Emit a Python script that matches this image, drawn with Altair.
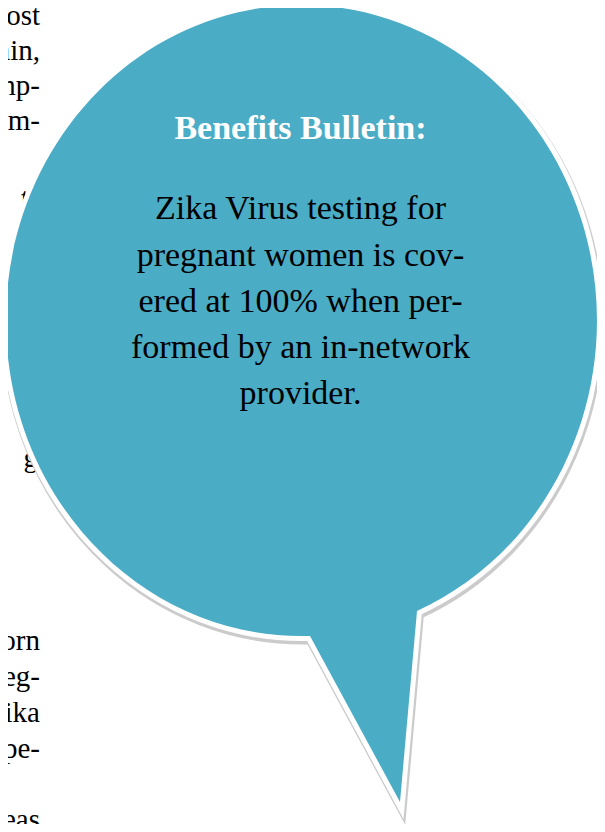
import altair as alt
import pandas as pd

# ---- content -------------------------------------------------------------
title_lines = ["Benefits Bulletin:"]
body_lines = [
    "Zika Virus testing for",
    "pregnant women is cov-",
    "ered at 100% when per-",
    "formed by an in-network",
    "provider.",
]
# fragments of the neighbouring newspaper column (cut by the page edge)
left_fragments = ["most", "main,", "mp-", "om-", "t", "g", "orn", "eg-", "ika", "pe-", "eas"]
left_right_edge = [40, 40, 40, 40, 29, 38, 40, 40, 40, 40, 40]
left_baseline = [25, 60, 95, 130, 208, 467, 650, 686, 722, 758, 829]

# speech bubble: ellipse centre and outline (relative, px)
bubble_center_x = [301.5]
bubble_center_y = [320.5]
bubble_path = "M 8.5 315.4 A 295.5 315.5 0 1 1 115.5 290.4 L 98.5 481.5 Z"

BLUE = "#4BACC6"
SHADOW = "#cbcbcb"
FONT = "Liberation Serif"

# ---- scales: page-pixel coordinate space -------------------------------
W, H = 589, 816
xs = alt.Scale(domain=[8, 8 + W], nice=False, zero=False)
ys = alt.Scale(domain=[8, 8 + H], nice=False, zero=False, reverse=True)

bubble_df = pd.DataFrame({"cx": bubble_center_x, "cy": bubble_center_y})
enc = dict(
    x=alt.X("cx:Q", scale=xs, axis=None),
    y=alt.Y("cy:Q", scale=ys, axis=None),
)

shadow = alt.Chart(bubble_df).mark_point(
    shape=bubble_path, size=4, filled=True, fill=SHADOW, stroke=SHADOW,
    strokeWidth=12, opacity=1, strokeJoin="miter", xOffset=1, yOffset=2.5,
).encode(**enc)

outline = alt.Chart(bubble_df).mark_point(
    shape=bubble_path, size=4, filled=True, fill="white", stroke="white",
    strokeWidth=10, opacity=1, strokeJoin="miter",
).encode(**enc)

bubble = alt.Chart(bubble_df).mark_point(
    shape=bubble_path, size=4, filled=True, fill=BLUE, strokeWidth=0, opacity=1,
).encode(**enc)

title = alt.Chart(pd.DataFrame({"t": title_lines})).mark_text(
    font=FONT, fontSize=34, fontWeight="bold", color="white",
    align="center", baseline="alphabetic",
).encode(
    x=alt.X(datum=300.5, scale=xs, axis=None),
    y=alt.Y(datum=139.3, scale=ys, axis=None),
    text="t:N",
)

body = alt.Chart(pd.DataFrame({"k": [0]})).mark_text(
    text=body_lines, font=FONT, fontSize=34, color="#000000",
    align="center", baseline="alphabetic", lineHeight=46.3,
).encode(
    x=alt.X(datum=300.5, scale=xs, axis=None),
    y=alt.Y(datum=219.3, scale=ys, axis=None),
)

left_df = pd.DataFrame({"t": left_fragments, "xr": left_right_edge, "yb": left_baseline})
left = alt.Chart(left_df).mark_text(
    font=FONT, fontSize=29, color="#000000", align="right", baseline="alphabetic",
).encode(
    x=alt.X("xr:Q", scale=xs, axis=None),
    y=alt.Y("yb:Q", scale=ys, axis=None),
    text="t:N",
)

chart = alt.layer(left, shadow, outline, bubble, title, body).properties(
    width=W, height=H, padding=0, autosize=alt.AutoSizeParams(type="none"),
    background="white",
).configure_view(stroke=None)

chart.save("out.html", embed_options={"renderer": "svg", "actions": False})
